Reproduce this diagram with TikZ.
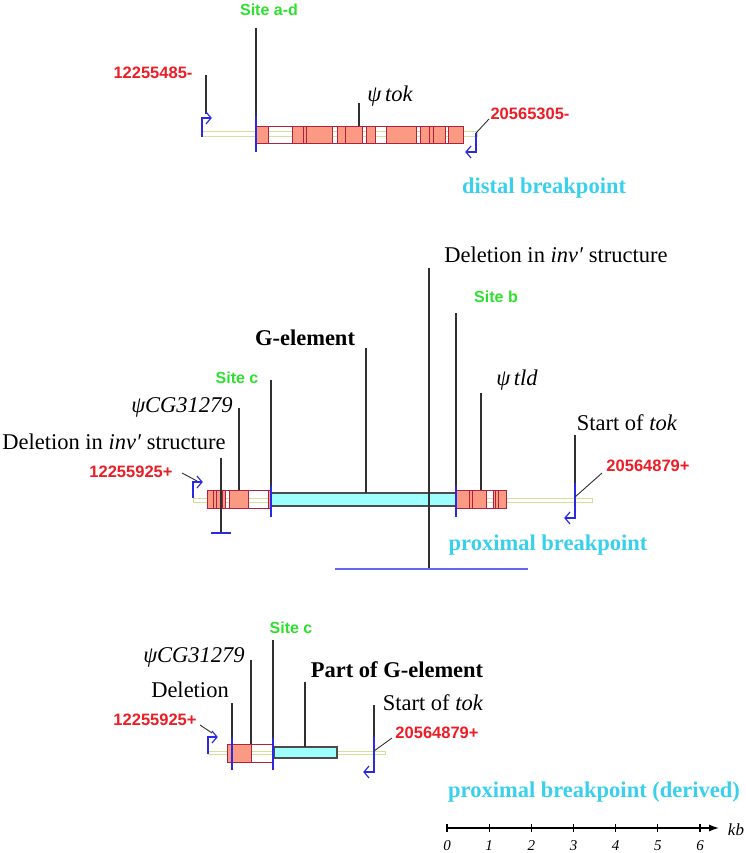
\documentclass[tikz,border=0pt]{standalone}
\usepackage{fontspec}
\setmainfont{Liberation Serif}
\setsansfont{Liberation Sans}
\usetikzlibrary{arrows.meta}
\definecolor{salm}{HTML}{FA9A82}
\definecolor{salmline}{HTML}{B22040}
\definecolor{cyanfill}{HTML}{9EFFFF}
\definecolor{pale}{HTML}{D2E09A}
\definecolor{bl}{HTML}{2A2AE6}
\definecolor{bl2}{HTML}{6666EE}
\definecolor{redlab}{HTML}{EE1C25}
\definecolor{greenlab}{HTML}{2EE02E}
\definecolor{cyanlab}{HTML}{38D0EC}
\definecolor{ptrc}{HTML}{303030}
\tikzset{
 serif/.style={font=\fontsize{22.5}{24}\selectfont, inner sep=0pt, text=black},
 bserif/.style={font=\bfseries\fontsize{22.5}{24}\selectfont, inner sep=0pt, text=black},
 redl/.style={font=\sffamily\bfseries\fontsize{16.5}{18}\selectfont, text=redlab, inner sep=0pt},
 greenl/.style={font=\sffamily\bfseries\fontsize{16}{18}\selectfont, text=greenlab, inner sep=0pt},
 titlel/.style={font=\bfseries\fontsize{22.5}{24}\selectfont, text=cyanlab, inner sep=0pt},
 scalel/.style={font=\itshape\fontsize{15}{17}\selectfont, inner sep=0pt},
 ptr/.style={draw=ptrc, line width=1.1pt},
 site/.style={draw=bl, line width=1.1pt},
 paleline/.style={draw=pale, line width=1pt, fill=white},
 exonfill/.style={fill=salm},
 exonline/.style={draw=salmline, line width=0.9pt},
 gel/.style={fill=cyanfill, draw=black!70, line width=1.3pt},
 bent/.style={draw=bl, line width=1.2pt, line join=miter},
 chev/.style={draw=bl, line width=1.2pt, line join=miter},
}
\begin{document}
\begin{tikzpicture}[x=1pt,y=-1pt]
\useasboundingbox (0,0) rectangle (746,853);

% ================= distal breakpoint =================
\draw[paleline] (202,132) rectangle (477,137);
\foreach \a/\b in {256/268,292/332,337/362,366/375,386/416,420/445,448/463}
  \fill[exonfill] (\a,126) rectangle (\b,143);
\foreach \x in {268,292,303,306,332,337,345,362,366,375,386,416,420,429,433,445,448}
  \draw[exonline] (\x,126) -- (\x,143);
\draw[exonline] (256,126) rectangle (463,143);

\node[greenl] (sad) at (269,10) {Site a-d};
\coordinate (sadT) at (256,28);
\coordinate (sadB) at (256,118);
\draw[ptr] (sadT) -- (sadB);
\draw[site] (256,116) -- (256,152);

\node[redl] (n1) at (153,73) {12255485-};
\coordinate (n1a) at (206,75);
\coordinate (n1b) at (206,114);
\draw[ptr] (n1a) -- (n1b);
\draw[bent] (202,137) -- (202,118) -- (211,118);
\draw[chev] (206,112) -- (211,118) -- (206,124);

\node[redl] (n2) at (530,114) {20565305-};
\coordinate (n2a) at (489,119);
\coordinate (n2b) at (476,133);
\draw[ptr, line width=0.9pt] (n2a) -- (n2b);
\draw[bent] (476,133) -- (476,152) -- (466,152);
\draw[chev] (471,146) -- (466,152) -- (471,158);

\node[serif] (tok) at (390,96) {\itshape ψ\,tok};
\draw[ptr] (359,103) -- (359,126);

\node[titlel] (distal) at (544,188) {distal breakpoint};

% ================= proximal breakpoint =================
\draw[paleline] (193,498) rectangle (592,502);
% left exon block
\foreach \a/\b in {207/225,229/248,268/271}
  \fill[exonfill] (\a,490) rectangle (\b,508);
\foreach \x in {213,216,222,225,229,248,268}
  \draw[exonline] (\x,490) -- (\x,508);
\draw[exonline] (207,490) rectangle (271,508);
% right exon block
\foreach \a/\b in {456/486,493/506}
  \fill[exonfill] (\a,490) rectangle (\b,508);
\foreach \x in {469,472,486,493,495,498}
  \draw[exonline] (\x,490) -- (\x,508);
\draw[exonline] (456,490) rectangle (506,508);
% G-element
\draw[gel] (271,493) rectangle (456,506);

\draw[site] (271,485) -- (271,517);
\draw[site] (456,485) -- (456,517);

\node[serif] (delTop) at (556,255) {Deletion in \textit{inv′} structure};
\draw[ptr] (429,268) -- (429,569);
\draw[draw=bl2, line width=1.6pt] (335,569) -- (528,569);

\node[greenl] (siteb) at (496,297) {Site b};
\draw[ptr] (456,313) -- (456,486);

\node[bserif] (gel) at (305,338) {G-element};
\draw[ptr] (366,348) -- (366,493);

\node[greenl] (sitec) at (237,378) {Site c};
\draw[ptr] (271,380) -- (271,486);

\node[serif] (cg) at (182,407) {\itshape ψCG31279};
\draw[ptr] (239,408) -- (239,490);

\node[serif] (tld) at (517,380) {\itshape ψ\,tld};
\draw[ptr] (481,393) -- (481,490);

\node[serif] (delLeft) at (114,442) {Deletion in \textit{inv′} structure};
\draw[ptr] (221,458) -- (221,533);
\draw[draw=bl, line width=1.4pt] (211,533) -- (231,533);

\node[redl] (n3) at (131,472) {12255925+};
\draw[ptr, line width=0.9pt] (182,473) -- (197,481);
\draw[bent] (193,498) -- (193,482) -- (202,482);
\draw[chev] (197,476) -- (202,482) -- (197,488);

\node[serif] (start1) at (627,423) {Start of \textit{tok}};
\draw[ptr] (575,435) -- (575,484);
\draw[bent] (575,483) -- (575,518) -- (565,518);
\draw[chev] (570,512) -- (565,518) -- (570,524);
\node[redl] (n4) at (648,466) {20564879+};
\draw[ptr, line width=0.9pt] (575,497) -- (602,473);

\node[titlel] (prox) at (548,545) {proximal breakpoint};

% ================= proximal breakpoint (derived) =================
\draw[paleline] (208,751) rectangle (385,754);
\fill[exonfill] (227,744) rectangle (251,762);
\draw[exonline] (251,744) -- (251,762);
\draw[exonline] (227,744) rectangle (273,762);
\draw[gel] (274,747) rectangle (337,758);

\draw[site] (232,737) -- (232,770);
\draw[site] (273,737) -- (273,770);

\node[serif] (cg2) at (194,657) {\itshape ψCG31279};
\draw[ptr] (251,660) -- (251,744);

\node[greenl] (sitec2) at (291,628) {Site c};
\draw[ptr] (273,640) -- (273,738);

\node[serif] (del2) at (190,690) {Deletion};
\draw[ptr] (232,703) -- (232,738);

\node[bserif] (part) at (397,670) {Part of G-element};
\draw[ptr] (305,682) -- (305,747);

\node[serif] (start2) at (433,703) {Start of \textit{tok}};
\draw[ptr] (374,705) -- (374,738);
\draw[bent] (374,737) -- (374,772) -- (364,772);
\draw[chev] (369,766) -- (364,772) -- (369,778);
\node[redl] (n6) at (437,733) {20564879+};
\draw[ptr, line width=0.9pt] (374,751) -- (392,738);

\node[redl] (n5) at (155,720) {12255925+};
\draw[ptr, line width=0.9pt] (200,725) -- (212,733);
\draw[bent] (208,754) -- (208,737) -- (217,737);
\draw[chev] (212,731) -- (217,737) -- (212,743);

\node[titlel] (prox2) at (594,792) {proximal breakpoint (derived)};

% ================= scale bar =================
\coordinate (s0) at (447,828);
\coordinate (s1) at (719,828);
\draw[line width=1.3pt, -{Latex[length=10pt,width=7pt]}] (s0) -- (s1);
\foreach \i in {0,...,6} {
  \draw[line width=1.1pt] (447+42.17*\i,824) -- (447+42.17*\i,832);
  \node[scalel] at (447+42.17*\i,846) {\i};
}
\node[font=\itshape\fontsize{17}{19}\selectfont, inner sep=0pt] (kb) at (736,830) {kb};
\end{tikzpicture}
\end{document}
